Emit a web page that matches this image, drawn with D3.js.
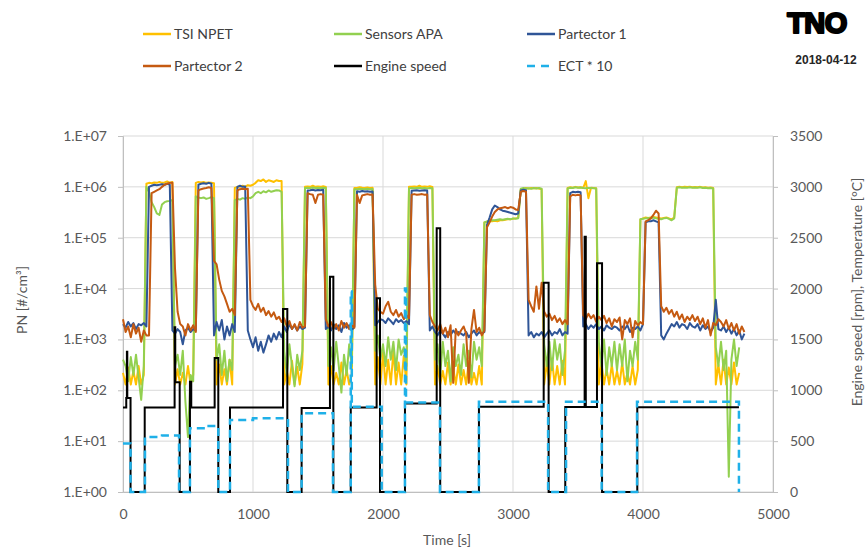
<!DOCTYPE html>
<html>
<head>
<meta charset="utf-8">
<script src="https://cdn.jsdelivr.net/npm/d3@7"></script>
<style>
    body { margin: 0; background: #fff; }
    svg { display: block; }
    text { font-family: Lato, "Open Sans", sans-serif; }
</style>
</head>
<body>
<svg id="chart" width="868" height="548"></svg>
<script>
var sampleTimes = d3.range(0, 4800, 20);

var tsiNpet = [
    2.2e2,1.3e2,2.8e2,1.3e2,2.4e2,1.3e2,3.0e2,1.3e2,2.0e2,1.15e6,
    1.2e6,1.18e6,1.22e6,1.2e6,1.25e6,1.2e6,1.22e6,1.28e6,1.2e6,1.25e6,
    1.3e2,2.6e2,1.3e2,2.2e2,1.3e2,3.0e2,1.3e2,2.0e2,1.2e6,1.25e6,
    1.22e6,1.25e6,1.2e6,1.22e6,1.2e6,1.18e6,1.3e2,3.2e2,1.3e2,2.6e2,
    1.3e2,4.0e2,1.3e2,9.5e5,1.0e6,1.0e6,1.05e6,1.0e6,1.08e6,1.05e6,
    1.1e6,1.2e6,1.35e6,1.3e6,1.4e6,1.25e6,1.35e6,1.3e6,1.25e6,1.35e6,
    1.3e6,1.3e6,1.3e2,2.4e2,1.3e2,3.8e2,1.3e2,2.9e2,1.3e2,3.3e2,
    1.0e6,1.02e6,1.0e6,1.05e6,1.0e6,1.02e6,1.0e6,1.03e6,1.0e6,1.3e2,
    3.0e2,1.3e2,2.2e2,1.3e2,3.5e2,1.3e2,2.5e2,1.3e2,2.0e2,9.5e5,
    9.5e5,9.8e5,9.6e5,9.5e5,9.7e5,9.5e5,9.6e5,1.3e2,4.5e2,1.3e2,
    5.5e2,1.3e2,4.0e2,1.3e2,6.0e2,1.3e2,3.5e2,1.3e2,4.8e2,1.3e2,
    1.0e6,1.0e6,1.02e6,1.0e6,1.05e6,1.0e6,1.02e6,1.0e6,1.03e6,1.0e6,
    1.3e2,3.0e2,1.3e2,2.4e2,1.3e2,3.5e2,1.3e2,2.8e2,1.3e2,3.2e2,
    1.3e2,2.5e2,1.3e2,3.8e2,1.3e2,2.2e2,1.3e2,3.0e2,1.3e2,2.0e5,
    2.05e5,2.1e5,2.1e5,2.15e5,2.1e5,2.2e5,2.2e5,2.25e5,2.3e5,2.3e5,
    2.35e5,2.4e5,2.45e5,9.0e5,9.2e5,9.5e5,9.3e5,9.5e5,9.4e5,9.5e5,
    9.3e5,9.0e5,1.3e2,3.5e2,1.3e2,4.2e2,1.3e2,3.0e2,1.3e2,3.8e2,
    1.3e2,9.5e5,9.8e5,9.6e5,1.0e6,9.7e5,9.8e5,9.5e5,1.3e6,6.0e5,
    9.6e5,9.5e5,9.4e5,1.3e2,3.5e2,1.3e2,2.6e2,1.3e2,3.2e2,1.3e2,
    2.4e2,1.3e2,3.5e2,1.3e2,2.2e2,1.3e2,3.0e2,1.3e2,2.5e2,2.3e5,
    2.4e5,2.5e5,2.45e5,2.5e5,2.55e5,2.5e5,2.45e5,2.4e5,2.45e5,2.5e5,
    2.4e5,2.3e5,2.5e5,9.8e5,1.0e6,9.8e5,1.0e6,9.9e5,1.0e6,9.8e5,
    9.9e5,9.8e5,1.0e6,9.7e5,9.8e5,9.6e5,9.7e5,9.5e5,1.3e2,3.2e2,
    1.3e2,4.0e2,1.3e2,2.8e2,1.3e2,3.5e2,1.3e2,2.2e2,null,null
];

var sensorsApa = [
    4.0e2,3.0e2,1.5e2,4.5e2,2.0e2,5.0e2,1.8e2,6.5e1,3.0e2,1.0e6,
    8.0e5,5.0e5,4.0e5,3.0e5,2.8e5,4.5e5,5.0e5,5.2e5,5.3e5,5.5e5,
    3.0e2,5.0e2,2.0e2,6.0e2,6.0e1,1.2e1,2.0e2,1.5e2,6.5e5,6.2e5,
    6.0e5,6.2e5,5.8e5,6.0e5,6.3e5,6.0e5,4.0e2,8.0e2,2.0e2,6.0e2,
    1.5e2,4.0e2,2.5e2,5.5e5,5.8e5,5.6e5,6.0e5,5.8e5,6.2e5,6.0e5,
    6.5e5,7.5e5,8.0e5,7.5e5,8.2e5,7.8e5,8.5e5,8.0e5,8.3e5,8.6e5,
    8.5e5,8.0e5,6.0e2,2.0e2,8.0e2,3.0e2,1.2e2,5.0e2,2.5e2,6.0e2,
    9.5e5,9.6e5,9.5e5,9.7e5,9.5e5,9.6e5,9.5e5,9.6e5,9.5e5,3.0e2,
    7.0e2,2.5e2,9.0e2,3.0e2,9.0e1,5.0e2,2.0e2,8.0e2,3.0e2,9.0e5,
    9.0e5,9.2e5,9.1e5,9.0e5,9.2e5,9.0e5,9.1e5,6.0e2,1.2e3,4.0e2,
    8.0e2,3.0e2,1.1e3,4.0e2,9.0e2,2.5e2,1.0e3,5.0e2,7.0e2,3.0e2,
    9.3e5,9.5e5,9.4e5,9.5e5,9.6e5,9.4e5,9.5e5,9.3e5,9.5e5,9.4e5,
    4.0e2,8.0e2,2.0e2,9.0e2,3.0e2,6.0e2,1.5e2,7.0e2,3.0e2,5.0e2,
    2.0e2,8.0e2,3.0e2,6.0e2,1.8e2,9.0e2,4.0e2,7.0e2,3.0e2,2.0e5,
    2.1e5,2.15e5,2.2e5,2.2e5,2.25e5,2.3e5,2.25e5,2.3e5,2.35e5,2.3e5,
    2.4e5,2.35e5,2.4e5,9.2e5,9.5e5,9.3e5,9.4e5,9.2e5,9.5e5,9.3e5,
    9.5e5,9.2e5,8.0e2,3.0e2,9.0e2,2.5e2,1.0e3,4.0e2,8.0e2,2.0e2,
    6.0e2,9.3e5,9.6e5,9.5e5,9.8e5,9.6e5,9.7e5,9.5e5,9.4e5,9.5e5,
    9.5e5,9.4e5,9.3e5,9.0e2,3.0e2,1.0e3,2.0e2,7.0e2,3.0e2,9.0e2,
    2.5e2,8.0e2,3.0e2,1.0e3,1.5e2,6.0e2,3.0e2,9.0e2,4.0e2,2.3e5,
    2.35e5,2.4e5,2.45e5,2.4e5,2.5e5,2.4e5,2.35e5,2.3e5,2.4e5,2.45e5,
    2.35e5,2.2e5,2.4e5,9.6e5,9.8e5,9.6e5,9.7e5,9.6e5,9.8e5,9.6e5,
    9.7e5,9.6e5,9.8e5,9.5e5,9.6e5,9.4e5,9.5e5,9.3e5,7.0e2,3.0e2,
    9.0e2,2.5e2,6.0e2,2.0e0,4.0e2,1.0e3,3.0e2,7.0e2,null,null
];

var partector1 = [
    2.0e3,1.7e3,2.2e3,1.8e3,2.1e3,1.6e3,2.0e3,1.9e3,2.1e3,1.8e3,
    1.0e6,1.05e6,1.1e6,1.08e6,1.1e6,1.12e6,1.1e6,1.15e6,1.1e6,1.5e3,
    1.3e3,1.6e3,1.4e3,8.0e2,1.5e3,1.7e3,1.4e3,1.6e3,1.5e3,1.1e6,
    1.15e6,1.18e6,1.15e6,1.2e6,1.15e6,1.2e3,2.2e3,1.5e3,2.4e3,1.0e3,
    1.8e3,1.2e3,2.0e3,1.4e3,1.0e6,1.05e6,1.0e6,1.02e6,1.5e3,1.0e3,
    7.0e2,1.1e3,6.0e2,9.0e2,5.5e2,8.0e2,1.2e3,9.0e2,1.3e3,1.0e3,
    1.4e3,1.1e3,1.8e3,1.4e3,2.0e3,1.6e3,1.9e3,1.5e3,1.8e3,1.6e3,
    1.7e3,8.5e5,8.6e5,8.8e5,8.5e5,8.7e5,8.6e5,8.8e5,1.6e3,1.8e3,
    1.5e3,2.0e3,1.6e3,1.9e3,1.4e3,2.1e3,1.7e3,1.9e3,1.5e3,1.8e3,
    8.2e5,8.0e5,8.3e5,8.1e5,8.2e5,8.0e5,8.1e5,1.9e3,2.2e3,2.5e3,
    2.4e3,2.1e3,2.6e3,2.3e3,2.0e3,2.5e3,2.2e3,2.4e3,2.1e3,2.3e3,
    2.0e3,8.4e5,8.5e5,8.6e5,8.4e5,8.5e5,8.6e5,8.5e5,1.5e3,1.8e3,
    1.4e3,1.2e3,1.5e3,1.3e3,1.1e3,1.4e3,1.2e3,1.5e3,1.3e3,1.4e3,
    1.3e3,1.2e3,1.4e3,1.1e3,1.3e3,1.5e3,1.2e3,1.4e3,1.3e3,1.4e3,
    1.8e5,2.5e5,3.6e5,4.3e5,4.0e5,3.6e5,3.4e5,3.3e5,3.2e5,3.1e5,
    3.0e5,2.9e5,3.0e5,8.5e5,8.8e5,8.6e5,1.2e3,1.4e3,1.1e3,1.3e3,
    1.2e3,1.4e3,1.1e3,1.3e3,1.5e3,1.2e3,1.4e3,1.3e3,1.6e3,1.2e3,
    1.4e3,1.3e3,7.5e5,8.0e5,7.8e5,8.0e5,7.8e5,1.8e3,2.0e3,1.6e3,
    1.9e3,1.7e3,2.0e3,1.6e3,1.8e3,1.5e3,1.9e3,1.7e3,1.6e3,1.8e3,
    1.7e3,1.5e3,1.8e3,1.6e3,1.9e3,1.4e3,1.7e3,1.6e3,1.8e3,1.5e3,
    2.0e3,2.0e5,2.1e5,2.1e5,2.2e5,2.1e5,2.0e5,1.2e3,1.0e3,1.3e3,
    1.6e3,2.0e3,1.8e3,2.2e3,1.7e3,2.0e3,1.9e3,1.6e3,2.1e3,1.8e3,
    1.7e3,2.0e3,1.5e3,1.9e3,1.6e3,1.8e3,1.4e3,1.7e3,6.0e3,1.6e3,
    1.5e3,1.8e3,1.4e3,1.7e3,1.3e3,1.6e3,1.2e3,1.5e3,1.0e3,1.3e3
];

var partector2 = [
    2.5e3,1.4e3,1.8e3,1.1e3,2.0e3,1.3e3,1.7e3,9.0e2,1.5e3,1.2e3,
    1.2e3,7.5e5,8.0e5,8.5e5,9.0e5,1.0e6,1.1e6,1.15e6,1.2e6,1.2e6,
    2.5e4,3.5e3,2.0e3,1.8e3,1.2e3,2.0e3,1.5e3,1.9e3,1.4e3,8.5e5,
    9.0e5,9.3e5,9.5e5,9.8e5,9.5e5,3.5e4,3.0e4,1.5e4,9.0e3,7.0e3,
    5.0e3,3.5e3,4.0e3,3.0e3,8.5e5,9.0e5,9.2e5,9.0e5,9.2e5,6.0e3,
    4.5e3,3.8e3,5.0e3,3.5e3,4.2e3,3.0e3,3.6e3,2.8e3,3.4e3,2.5e3,
    2.8e3,2.2e3,2.6e3,1.8e3,2.3e3,1.6e3,2.0e3,1.5e3,2.2e3,1.7e3,
    1.8e3,7.5e5,7.2e5,7.0e5,4.8e5,7.0e5,7.2e5,7.0e5,2.5e3,1.8e3,
    2.2e3,1.6e3,2.0e3,1.5e3,2.3e3,1.7e3,2.1e3,1.6e3,1.9e3,1.7e3,
    7.0e5,4.8e5,6.8e5,7.0e5,7.2e5,7.0e5,7.1e5,1.2e4,4.0e3,3.5e3,
    3.2e3,4.5e3,5.5e3,3.5e3,3.0e3,3.8e3,2.8e3,3.3e3,2.5e3,3.0e3,
    2.6e3,7.0e5,7.2e5,7.0e5,7.1e5,7.2e5,7.0e5,7.1e5,3.0e3,2.2e3,
    1.8e3,1.5e3,2.0e3,1.3e3,1.7e3,1.1e3,1.9e3,1.4e2,1.6e3,1.2e3,
    1.5e3,1.8e3,1.3e3,1.4e2,1.6e3,3.8e3,1.4e3,1.7e3,1.2e3,1.5e3,
    1.6e5,2.0e5,2.6e5,3.2e5,3.6e5,3.8e5,3.9e5,4.0e5,3.8e5,4.0e5,
    3.9e5,3.6e5,3.5e5,8.0e5,8.3e5,8.0e5,6.0e3,4.5e3,3.5e3,1.1e4,
    4.0e3,1.3e4,3.5e3,2.8e3,3.2e3,2.4e3,2.9e3,2.2e3,2.6e3,2.0e3,
    2.4e3,2.0e3,6.5e5,7.0e5,6.8e5,7.0e5,6.8e5,3.0e3,2.5e3,3.2e3,
    2.6e3,3.0e3,2.2e3,2.8e3,2.4e3,2.9e3,2.1e3,2.6e3,1.8e3,2.5e3,
    2.2e3,2.7e3,1.0e3,2.4e3,2.0e3,2.6e3,1.1e3,2.3e3,1.9e3,2.2e3,
    2.0e3,2.1e5,2.2e5,2.4e5,2.8e5,3.4e5,3.0e5,4.5e3,3.5e3,4.2e3,
    3.2e3,3.8e3,2.8e3,3.5e3,2.5e3,3.1e3,2.2e3,2.8e3,2.4e3,3.0e3,
    2.3e3,2.8e3,2.0e3,2.6e3,1.7e3,2.4e3,1.2e3,2.1e3,1.9e3,2.5e3,
    2.2e3,1.8e3,2.4e3,1.6e3,2.1e3,1.5e3,2.0e3,1.3e3,1.8e3,1.4e3
];

// Engine speed [rpm], step changes (time [s] -> value)
var engineTimes = [0, 25, 30, 33, 58, 167, 397, 402, 436, 515, 525, 705, 733, 823, 1231, 1264,
    1374, 1592, 1618, 1752, 1951, 1977, 2169, 2413, 2440, 2738, 3236, 3274, 3402, 3551, 3560,
    3646, 3685, 3956, 4738];
var engineSpeed = [830, 925, 1380, 925, 0, 830, 1620, 1080, 0, 1085, 830, 1317, 0, 830, 1800, 0,
    825, 2116, 0, 830, 1904, 0, 870, 2592, 0, 838, 2057, 0, 835, 2510, 835,
    2248, 0, 832, 832];

// Coolant temperature * 10, step changes
var ectTimes = [0, 58, 169, 300, 431, 515, 620, 733, 823, 1000, 1269, 1374, 1615, 1752, 1760,
    1990, 2169, 2177, 2438, 2738, 3270, 3408, 3682, 3954, 4738];
var ectTimes10 = [478, 0, 540, 555, 0, 626, 650, 0, 708, 724, 0, 775, 0, 1970, 838,
    0, 2000, 880, 0, 888, 0, 888, 0, 888, 0];

var pnTicks = [1, 10, 100, 1e3, 1e4, 1e5, 1e6, 1e7];
var rpmTicks = [0, 500, 1000, 1500, 2000, 2500, 3000, 3500];
var timeTicks = [0, 1000, 2000, 3000, 4000, 5000];

var svg = d3.select("#chart");
var gridColor = "#d9d9d9", axisColor = "#bfbfbf", labelColor = "#595959";

var x = d3.scaleLinear().domain([0, 5000]).range([123, 773]);
var yPN = d3.scaleLog().domain([1, 1e7]).range([492, 136]);
var yRpm = d3.scaleLinear().domain([0, 3500]).range([492, 136]);

// --- grid ---
var grid = svg.append("g");
grid.selectAll("line.h").data(pnTicks).enter().append("line")
    .attr("x1", x(0)).attr("x2", x(5000))
    .attr("y1", d => yPN(d)).attr("y2", d => yPN(d))
    .attr("stroke", gridColor).attr("stroke-width", 1);
grid.selectAll("line.v").data(timeTicks).enter().append("line")
    .attr("y1", yPN(1)).attr("y2", yPN(1e7))
    .attr("x1", d => x(d)).attr("x2", d => x(d))
    .attr("stroke", gridColor).attr("stroke-width", 1);

// --- axes ---
function styleAxis(g) {
    g.select(".domain").attr("stroke", axisColor);
    g.selectAll(".tick line").attr("stroke", axisColor);
    g.selectAll(".tick text").attr("fill", labelColor)
        .style("font-size", "14px").style("font-family", "Lato, sans-serif");
}

svg.append("g")
    .attr("transform", `translate(${x(0)},0)`)
    .call(d3.axisLeft(yPN).tickValues(pnTicks).tickSize(5).tickPadding(11)
        .tickFormat(d => "1.E+" + String(Math.round(Math.log10(d))).padStart(2, "0")))
    .call(styleAxis);

svg.append("g")
    .attr("transform", `translate(${x(5000)},0)`)
    .call(d3.axisRight(yRpm).tickValues(rpmTicks).tickSize(5).tickPadding(12)
        .tickFormat(d3.format("d")))
    .call(styleAxis);

svg.append("g")
    .attr("transform", `translate(0,${yPN(1)})`)
    .call(d3.axisBottom(x).tickValues(timeTicks).tickSize(0).tickPadding(17)
        .tickFormat(d3.format("d")))
    .call(styleAxis);

// axis titles
svg.append("text")
    .attr("transform", "translate(27,300) rotate(-90)")
    .attr("text-anchor", "middle").attr("fill", labelColor).style("font-size", "14px")
    .text("PN [#/cm³]");
svg.append("text")
    .attr("transform", "translate(862,292) rotate(-90)")
    .attr("text-anchor", "middle").attr("fill", labelColor).style("font-size", "14px")
    .text("Engine speed [rpm], Temperature [°C]");
svg.append("text")
    .attr("x", 447).attr("y", 545)
    .attr("text-anchor", "middle").attr("fill", labelColor).style("font-size", "14px")
    .text("Time [s]");

// --- PN lines ---
var pnSeries = [
    { name: "TSI NPET", values: tsiNpet, color: "#ffc000" },
    { name: "Sensors APA", values: sensorsApa, color: "#92d050" },
    { name: "Partector 1", values: partector1, color: "#2f5597" },
    { name: "Partector 2", values: partector2, color: "#c55a11" }
];

var pnLine = d3.line()
    .defined(d => d[1] != null)
    .x(d => x(d[0]))
    .y(d => yPN(d[1]));

svg.append("g").selectAll("path")
    .data(pnSeries).enter().append("path")
    .attr("d", s => pnLine(sampleTimes.map((t, i) => [t, s.values[i]])))
    .attr("fill", "none")
    .attr("stroke", s => s.color)
    .attr("stroke-width", 2)
    .attr("stroke-linejoin", "round");

// --- secondary axis lines ---
var stepLine = d3.line()
    .x(d => x(d[0]))
    .y(d => yRpm(d[1]))
    .curve(d3.curveStepAfter);

svg.append("path")
    .attr("d", stepLine(engineTimes.map((t, i) => [t, engineSpeed[i]])))
    .attr("fill", "none").attr("stroke", "#000").attr("stroke-width", 2);

svg.append("path")
    .attr("d", stepLine(ectTimes.map((t, i) => [t, ectTimes10[i]])))
    .attr("fill", "none").attr("stroke", "#1fb0e8").attr("stroke-width", 2.5)
    .attr("stroke-dasharray", "8,5");

// --- legend ---
var legendItems = [
    { name: "TSI NPET", color: "#ffc000", x: 143, y: 34 },
    { name: "Sensors APA", color: "#92d050", x: 334, y: 34 },
    { name: "Partector 1", color: "#2f5597", x: 527, y: 34 },
    { name: "Partector 2", color: "#c55a11", x: 143, y: 66 },
    { name: "Engine speed", color: "#000000", x: 334, y: 66 },
    { name: "ECT * 10", color: "#1fb0e8", x: 527, y: 66, dash: "8,6" }
];
var legend = svg.append("g").selectAll("g")
    .data(legendItems).enter().append("g")
    .attr("transform", d => `translate(${d.x},${d.y})`);
legend.append("line")
    .attr("x1", 0).attr("x2", d => d.dash ? 22 : 28)
    .attr("stroke", d => d.color).attr("stroke-width", 2.5)
    .attr("stroke-dasharray", d => d.dash || null);
legend.append("text")
    .attr("x", 31).attr("y", 5)
    .attr("fill", "#404040").style("font-size", "14px")
    .text(d => d.name);

// --- logo and date ---
svg.append("text")
    .attr("x", 817).attr("y", 33).attr("text-anchor", "middle")
    .style("font-family", "Liberation Sans, Arial, sans-serif")
    .style("font-weight", "900").style("font-size", "29px")
    .style("letter-spacing", "-0.5px")
    .attr("fill", "#000").attr("stroke", "#000").attr("stroke-width", 2.2)
    .attr("stroke-linejoin", "round")
    .text("TNO");
svg.append("text")
    .attr("x", 826).attr("y", 64).attr("text-anchor", "middle")
    .style("font-family", "Liberation Sans, Arial, sans-serif")
    .style("font-weight", "bold").style("font-size", "12px")
    .attr("fill", "#262626").text("2018-04-12");
</script>
</body>
</html>
